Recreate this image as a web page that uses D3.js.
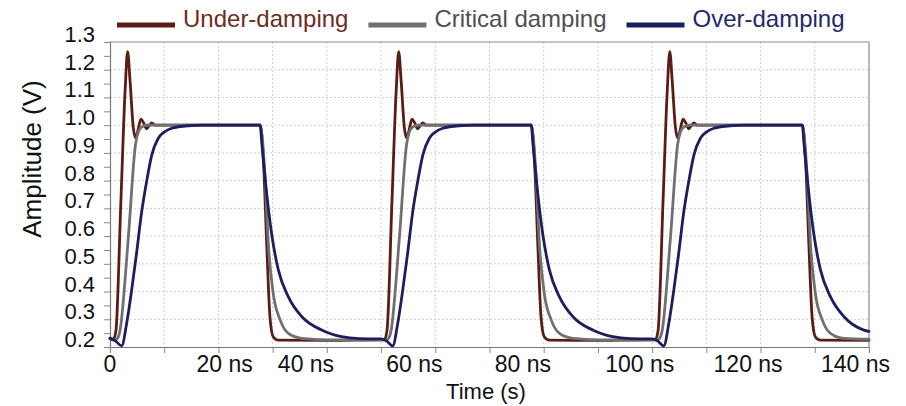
<!DOCTYPE html>
<html>
<head>
<meta charset="utf-8">
<script src="https://cdn.jsdelivr.net/npm/d3@7"></script>
<style>
  html, body { margin: 0; padding: 0; background: #fff; }
  svg { display: block; font-family: "Liberation Sans", Arial, Helvetica, sans-serif; }
</style>
</head>
<body>
<svg id="chart" width="906" height="406"></svg>
<script>
// ---------------- data ----------------
const seriesNames = ["Under-damping", "Critical damping", "Over-damping"];

// [time (ns), amplitude (V)]
const underDamping = [
  [0,0.230],[0.6,0.226],[1.1,0.26],[2.0,0.72],[2.8,1.13],[3.25,1.265],[3.7,1.16],[4.3,0.99],[4.75,0.953],
  [5.2,0.985],[5.7,1.022],[6.2,1.008],[6.75,0.987],[7.2,0.998],[7.7,1.008],[8.3,1.0],[9.5,1.0],[27.7,1.0],
  [28.3,0.874],[28.9,0.574],[29.5,0.309],[30.1,0.237],[31.0,0.225],[40,0.224],
  [50,0.226],[50.6,0.226],[51.1,0.26],[52.0,0.72],[52.8,1.13],[53.25,1.265],[53.7,1.16],[54.3,0.99],[54.75,0.953],
  [55.2,0.985],[55.7,1.022],[56.2,1.008],[56.75,0.987],[57.2,0.998],[57.7,1.008],[58.3,1.0],[59.5,1.0],[77.7,1.0],
  [78.3,0.874],[78.9,0.574],[79.5,0.309],[80.1,0.237],[81.0,0.225],[90,0.224],
  [100,0.226],[100.6,0.226],[101.1,0.26],[102.0,0.72],[102.8,1.13],[103.25,1.265],[103.7,1.16],[104.3,0.99],[104.75,0.953],
  [105.2,0.985],[105.7,1.022],[106.2,1.008],[106.75,0.987],[107.2,0.998],[107.7,1.008],[108.3,1.0],[109.5,1.0],[127.7,1.0],
  [128.3,0.874],[128.9,0.574],[129.5,0.309],[130.1,0.237],[131.0,0.225],[140,0.224]
];

const criticalDamping = [
  [0,0.230],[1.0,0.226],[1.6,0.24],[1.85,0.26],[3.4,0.60],[4.7,0.93],[5.2,0.975],[5.8,0.993],[6.8,1.0],[27.7,1.0],
  [28.6,0.814],[29.2,0.574],[30.1,0.394],[31.4,0.297],[32.9,0.249],[35.4,0.231],[40,0.226],
  [50,0.226],[51.0,0.226],[51.6,0.24],[51.85,0.26],[53.4,0.60],[54.7,0.93],[55.2,0.975],[55.8,0.993],[56.8,1.0],[77.7,1.0],
  [78.6,0.814],[79.2,0.574],[80.1,0.394],[81.4,0.297],[82.9,0.249],[85.4,0.231],[90,0.226],
  [100,0.226],[101.0,0.226],[101.6,0.24],[101.85,0.26],[103.4,0.60],[104.7,0.93],[105.2,0.975],[105.8,0.993],[106.8,1.0],[127.7,1.0],
  [128.6,0.814],[129.2,0.574],[130.1,0.394],[131.4,0.297],[132.9,0.249],[135.4,0.231],[140,0.228]
];

const overDamping = [
  [0,0.232],[1.0,0.222],[2.15,0.204],[3.07,0.285],[4.0,0.406],[4.9,0.538],[5.8,0.682],[6.8,0.802],[7.7,0.892],
  [8.9,0.953],[10.0,0.975],[11.4,0.989],[14.4,0.998],[17.0,1.0],[27.7,1.0],
  [28.0,0.935],[28.9,0.754],[29.8,0.61],[31.05,0.478],[32.9,0.381],[35.4,0.309],[39.05,0.261],[42.7,0.237],[46,0.230],
  [50,0.229],[51.0,0.222],[52.15,0.204],[53.07,0.285],[54.0,0.406],[54.9,0.538],[55.8,0.682],[56.8,0.802],[57.7,0.892],
  [58.9,0.953],[60.0,0.975],[61.4,0.989],[64.4,0.998],[67.0,1.0],[77.7,1.0],
  [78.0,0.935],[78.9,0.754],[79.8,0.61],[81.05,0.478],[82.9,0.381],[85.4,0.309],[89.05,0.261],[92.7,0.237],[96,0.230],
  [100,0.229],[101.0,0.222],[102.15,0.204],[103.07,0.285],[104.0,0.406],[104.9,0.538],[105.8,0.682],[106.8,0.802],[107.7,0.892],
  [108.9,0.953],[110.0,0.975],[111.4,0.989],[114.4,0.998],[117.0,1.0],[127.7,1.0],
  [128.0,0.935],[128.9,0.754],[129.8,0.61],[131.05,0.478],[132.9,0.381],[135.4,0.309],[139.05,0.261],[140,0.256]
];

const xTickValues = [0, 20, 40, 60, 80, 100, 120, 140];
const xTickLabels = ["0", "20 ns", "40 ns", "60 ns", "80 ns", "100 ns", "120 ns", "140 ns"];
const yTickValues = [0.2, 0.3, 0.4, 0.5, 0.6, 0.7, 0.8, 0.9, 1.0, 1.1, 1.2, 1.3];
const yTickLabels = ["0.2", "0.3", "0.4", "0.5", "0.6", "0.7", "0.8", "0.9", "1.0", "1.1", "1.2", "1.3"];
const xTitle = "Time (s)";
const yTitle = "Amplitude (V)";

// ---------------- layout / style ----------------
const colors = ["#5a1c15", "#707070", "#1c1f5e"];
const legendTextColors = ["#6e2c22", "#505050", "#23296b"];
const plot = { left: 110, right: 869, top: 42, bottom: 347 };
// label placement quirks of the original figure (anchor / shift per x label)
const xLabelShift = [0, -22, -49, -49, -49, -47, -47, -48];

const svg = d3.select("#chart");
const x = d3.scaleLinear().domain([0, 140]).range([plot.left, plot.right]);
const y = d3.scaleLinear().domain([0.2, 1.3]).range([plot.bottom, plot.top]);

// grid
const grid = svg.append("g");
grid.selectAll("line.vg").data(d3.range(10, 140, 10)).join("line")
  .attr("x1", d => x(d)).attr("x2", d => x(d))
  .attr("y1", plot.top).attr("y2", plot.bottom)
  .attr("stroke", "#cfcfcf").attr("stroke-width", 1).attr("stroke-dasharray", "2,2");
grid.selectAll("line.hg").data(yTickValues.slice(1, -1)).join("line")
  .attr("x1", plot.left).attr("x2", plot.right)
  .attr("y1", d => y(d)).attr("y2", d => y(d))
  .attr("stroke", "#cfcfcf").attr("stroke-width", 1).attr("stroke-dasharray", "2,2");

// frame top/right
svg.append("line").attr("x1", plot.left).attr("x2", plot.right).attr("y1", y(1.3)).attr("y2", y(1.3))
  .attr("stroke", "#8a8a8a").attr("stroke-width", 1.2);
svg.append("line").attr("x1", x(140)).attr("x2", x(140)).attr("y1", plot.top).attr("y2", plot.bottom)
  .attr("stroke", "#8a8a8a").attr("stroke-width", 1.2);

// axes
const minorY = d3.range(0, 23).map(i => 0.2 + i * 0.05);
const yAxis = svg.append("g").attr("transform", `translate(${plot.left},0)`)
  .call(d3.axisLeft(y).tickValues(minorY).tickSize(6).tickFormat(""));
const xAxis = svg.append("g").attr("transform", `translate(0,${plot.bottom})`)
  .call(d3.axisBottom(x).tickValues(d3.range(0, 141, 10)).tickSize(6).tickFormat(""));
[yAxis, xAxis].forEach(a => {
  a.select(".domain").attr("stroke", "#777").attr("stroke-width", 1.2);
  a.selectAll(".tick line").attr("stroke", "#888");
});

// y labels (baseline on tick)
svg.append("g").selectAll("text").data(yTickValues).join("text")
  .attr("x", plot.left - 15).attr("y", d => y(d))
  .attr("text-anchor", "end").attr("font-size", 22).attr("fill", "#111")
  .text((d, i) => yTickLabels[i]);

// x labels
svg.append("g").selectAll("text").data(xTickValues).join("text")
  .attr("x", (d, i) => x(d) + xLabelShift[i]).attr("y", 372)
  .attr("text-anchor", (d, i) => i === 0 ? "middle" : "start")
  .attr("font-size", 23).attr("fill", "#111")
  .text((d, i) => xTickLabels[i]);

// titles
svg.append("text").attr("x", 486).attr("y", 399).attr("text-anchor", "middle")
  .attr("font-size", 22).attr("fill", "#111").text(xTitle);
svg.append("text").attr("transform", "translate(41,159) rotate(-90)").attr("text-anchor", "middle")
  .attr("font-size", 26).attr("fill", "#111").text(yTitle);

// lines
const line = d3.line().x(d => x(d[0])).y(d => y(d[1])).curve(d3.curveMonotoneX);
const allSeries = [underDamping, criticalDamping, overDamping];
svg.append("g").selectAll("path").data(allSeries).join("path")
  .attr("d", line).attr("fill", "none")
  .attr("stroke", (d, i) => colors[i]).attr("stroke-width", 2.8)
  .attr("stroke-linejoin", "round").attr("stroke-linecap", "round");

// legend
const legend = svg.append("g");
let lx = 117;
seriesNames.forEach((name, i) => {
  legend.append("line").attr("x1", lx).attr("x2", lx + 58).attr("y1", 25).attr("y2", 25)
    .attr("stroke", colors[i]).attr("stroke-width", 5);
  const t = legend.append("text").attr("x", lx + 66).attr("y", 27)
    .attr("font-size", 24).attr("fill", legendTextColors[i]).text(name);
  lx = lx + 66 + t.node().getComputedTextLength() + 20;
});
</script>
</body>
</html>
